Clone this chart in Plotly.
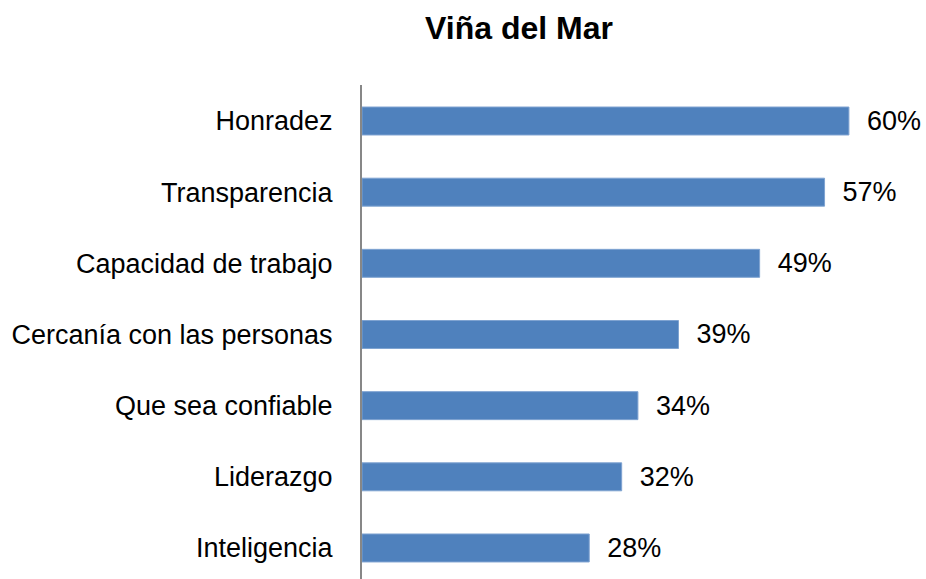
import plotly.graph_objects as go

categories = ["Inteligencia", "Liderazgo", "Que sea confiable", "Cercanía con las personas",
              "Capacidad de trabajo", "Transparencia", "Honradez"]
values = [0.28, 0.32, 0.34, 0.39, 0.49, 0.57, 0.60]
title_text = "Viña del Mar"

FONT = "Liberation Sans, Arial, sans-serif"

W, H = 926, 579

fig = go.Figure(
    go.Bar(
        x=values,
        y=categories,
        orientation="h",
        marker=dict(color="#4F81BD", line=dict(color="#7FA3D1", width=1)),
        texttemplate="\u00a0\u00a0%{x:.0%}",
        textposition="outside",
        constraintext="none",
        cliponaxis=False,
        textfont=dict(family=FONT, size=27, color="#000000"),
        hoverinfo="skip",
    )
)

fig.update_layout(
    width=W,
    height=H,
    margin=dict(l=362, r=0, t=85, b=0),
    paper_bgcolor="white",
    plot_bgcolor="white",
    bargap=0.607,
    showlegend=False,
    title=dict(
        text="<b>%s</b>" % title_text,
        font=dict(family=FONT, size=32, color="#000000"),
        x=519 / W,
        xanchor="center",
        y=1 - 28 / H,
        yanchor="middle",
    ),
    xaxis=dict(
        range=[0, 0.695],
        visible=False,
        showgrid=False,
        zeroline=False,
    ),
    yaxis=dict(
        categoryorder="array",
        categoryarray=categories,
        range=[-0.436, 6.506],
        showline=True,
        linecolor="#878787",
        linewidth=2,
        ticks="",
        showgrid=False,
        zeroline=False,
        ticklabelstandoff=22,
        tickfont=dict(family=FONT, size=27, color="#000000"),
    ),
)

fig.write_html(
    "out.html",
    config={"displayModeBar": False},
    post_script="document.body.style.margin='0';document.body.style.overflow='hidden';",
)
